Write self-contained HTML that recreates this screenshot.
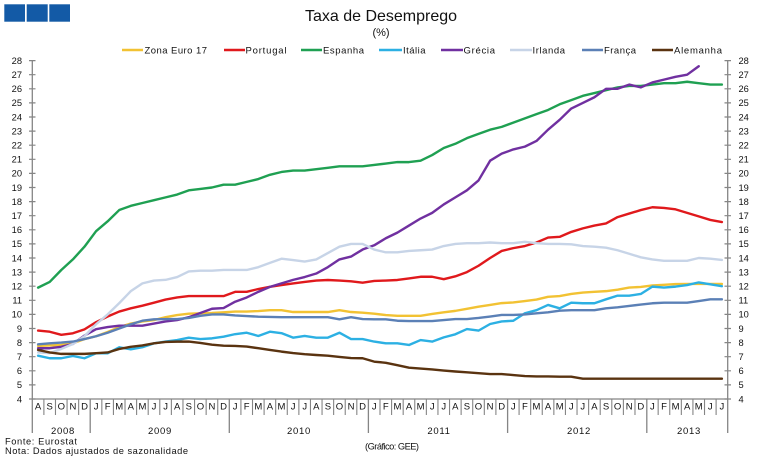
<!DOCTYPE html>
<html><head><meta charset="utf-8"><style>
html,body{margin:0;padding:0;background:#fff;}
svg{display:block;font-family:"Liberation Sans",Arial,sans-serif;}
</style></head><body>
<svg width="762" height="468" viewBox="0 0 762 468" xmlns="http://www.w3.org/2000/svg">
<rect width="762" height="468" fill="#fff"/>
<!-- logo -->
<rect x="4.3" y="4.3" width="20.7" height="17.4" fill="#135aa6"/>
<rect x="26.7" y="4.3" width="21" height="17.4" fill="#135aa6"/>
<rect x="49.3" y="4.3" width="20.7" height="17.4" fill="#135aa6"/>
<!-- title -->
<text x="381" y="21" font-size="16" text-anchor="middle" fill="#111">Taxa de Desemprego</text>
<text x="381" y="36" font-size="11" text-anchor="middle" fill="#111">(%)</text>
<!-- legend -->
<g stroke-width="2.6">
<line x1="122" y1="50" x2="143" y2="50" stroke="#f2c233"/>
<line x1="224" y1="50" x2="245" y2="50" stroke="#e0191c"/>
<line x1="301" y1="50" x2="322" y2="50" stroke="#1fa052"/>
<line x1="379" y1="50" x2="402" y2="50" stroke="#2cb0e3"/>
<line x1="441" y1="50" x2="463" y2="50" stroke="#7030a0"/>
<line x1="510" y1="50" x2="532" y2="50" stroke="#c7d4e7"/>
<line x1="582" y1="50" x2="603" y2="50" stroke="#5b80b6"/>
<line x1="652" y1="50" x2="673" y2="50" stroke="#5a3310"/>
</g>
<g font-size="9.5" fill="#111">
<text x="144.5" y="53.3" textLength="62.5" lengthAdjust="spacing">Zona Euro 17</text>
<text x="245.5" y="53.3" textLength="41" lengthAdjust="spacing">Portugal</text>
<text x="323" y="53.3" textLength="41" lengthAdjust="spacing">Espanha</text>
<text x="403" y="53.3" textLength="22.5" lengthAdjust="spacing">Itália</text>
<text x="463.5" y="53.3" textLength="31.5" lengthAdjust="spacing">Grécia</text>
<text x="532.5" y="53.3" textLength="32.5" lengthAdjust="spacing">Irlanda</text>
<text x="604" y="53.3" textLength="32" lengthAdjust="spacing">França</text>
<text x="674" y="53.3" textLength="48" lengthAdjust="spacing">Alemanha</text>
</g>
<!-- axes -->
<g stroke="#858585" stroke-width="1.3" fill="none">
<line x1="32.3" y1="60.6" x2="32.3" y2="433"/>
<line x1="727.7" y1="60.6" x2="727.7" y2="433"/>
<line x1="32.3" y1="399" x2="727.7" y2="399"/>
<line x1="90.2" y1="399" x2="90.2" y2="433"/>
<line x1="229.3" y1="399" x2="229.3" y2="433"/>
<line x1="368.4" y1="399" x2="368.4" y2="433"/>
<line x1="507.6" y1="399" x2="507.6" y2="433"/>
<line x1="646.8" y1="399" x2="646.8" y2="433"/>
</g>
<g transform="matrix(1 0 0 -14.1 0 455.4)">
<path fill="none" stroke="#858585" stroke-width="1.2" vector-effect="non-scaling-stroke" d="M29,4H35.5M29,5H35.5M29,6H35.5M29,7H35.5M29,8H35.5M29,9H35.5M29,10H35.5M29,11H35.5M29,12H35.5M29,13H35.5M29,14H35.5M29,15H35.5M29,16H35.5M29,17H35.5M29,18H35.5M29,19H35.5M29,20H35.5M29,21H35.5M29,22H35.5M29,23H35.5M29,24H35.5M29,25H35.5M29,26H35.5M29,27H35.5M29,28H35.5
M724.5,4H731M724.5,5H731M724.5,6H731M724.5,7H731M724.5,8H731M724.5,9H731M724.5,10H731M724.5,11H731M724.5,12H731M724.5,13H731M724.5,14H731M724.5,15H731M724.5,16H731M724.5,17H731M724.5,18H731M724.5,19H731M724.5,20H731M724.5,21H731M724.5,22H731M724.5,23H731M724.5,24H731M724.5,25H731M724.5,26H731M724.5,27H731M724.5,28H731"/>
</g>
<g transform="matrix(11.59 0 0 1 32.3 0)">
<path fill="none" stroke="#858585" stroke-width="1.1" vector-effect="non-scaling-stroke" d="M1,399V415M2,399V415M3,399V415M4,399V415M6,399V415M7,399V415M8,399V415M9,399V415M10,399V415M11,399V415M12,399V415M13,399V415M14,399V415M15,399V415M16,399V415M18,399V415M19,399V415M20,399V415M21,399V415M22,399V415M23,399V415M24,399V415M25,399V415M26,399V415M27,399V415M28,399V415M30,399V415M31,399V415M32,399V415M33,399V415M34,399V415M35,399V415M36,399V415M37,399V415M38,399V415M39,399V415M40,399V415M42,399V415M43,399V415M44,399V415M45,399V415M46,399V415M47,399V415M48,399V415M49,399V415M50,399V415M51,399V415M52,399V415M54,399V415M55,399V415M56,399V415M57,399V415M58,399V415M59,399V415"/>
</g>
<!-- y labels -->
<g font-size="9.3" fill="#111" text-anchor="end">
<text x="22" y="63.9">28</text><text x="22" y="78">27</text><text x="22" y="92.1">26</text><text x="22" y="106.2">25</text><text x="22" y="120.3">24</text><text x="22" y="134.4">23</text><text x="22" y="148.5">22</text><text x="22" y="162.6">21</text><text x="22" y="176.7">20</text><text x="22" y="190.8">19</text><text x="22" y="204.9">18</text><text x="22" y="219">17</text><text x="22" y="233.1">16</text><text x="22" y="247.2">15</text><text x="22" y="261.3">14</text><text x="22" y="275.4">13</text><text x="22" y="289.5">12</text><text x="22" y="303.6">11</text><text x="22" y="317.7">10</text><text x="22" y="331.8">9</text><text x="22" y="345.9">8</text><text x="22" y="360">7</text><text x="22" y="374.1">6</text><text x="22" y="388.2">5</text><text x="22" y="402.3">4</text>
</g>
<g font-size="9.3" fill="#111" text-anchor="start">
<text x="738.5" y="63.9">28</text><text x="738.5" y="78">27</text><text x="738.5" y="92.1">26</text><text x="738.5" y="106.2">25</text><text x="738.5" y="120.3">24</text><text x="738.5" y="134.4">23</text><text x="738.5" y="148.5">22</text><text x="738.5" y="162.6">21</text><text x="738.5" y="176.7">20</text><text x="738.5" y="190.8">19</text><text x="738.5" y="204.9">18</text><text x="738.5" y="219">17</text><text x="738.5" y="233.1">16</text><text x="738.5" y="247.2">15</text><text x="738.5" y="261.3">14</text><text x="738.5" y="275.4">13</text><text x="738.5" y="289.5">12</text><text x="738.5" y="303.6">11</text><text x="738.5" y="317.7">10</text><text x="738.5" y="331.8">9</text><text x="738.5" y="345.9">8</text><text x="738.5" y="360">7</text><text x="738.5" y="374.1">6</text><text x="738.5" y="388.2">5</text><text x="738.5" y="402.3">4</text>
</g>
<!-- month labels -->
<g font-size="9.5" fill="#111" text-anchor="middle">
<text x="38.1" y="409.3">A</text><text x="49.7" y="409.3">S</text><text x="61.3" y="409.3">O</text><text x="72.9" y="409.3">N</text><text x="84.5" y="409.3">D</text>
<text x="96.1" y="409.3">J</text><text x="107.6" y="409.3">F</text><text x="119.2" y="409.3">M</text><text x="130.8" y="409.3">A</text><text x="142.4" y="409.3">M</text><text x="154" y="409.3">J</text><text x="165.6" y="409.3">J</text><text x="177.2" y="409.3">A</text><text x="188.8" y="409.3">S</text><text x="200.4" y="409.3">O</text><text x="211.9" y="409.3">N</text><text x="223.5" y="409.3">D</text>
<text x="235.1" y="409.3">J</text><text x="246.7" y="409.3">F</text><text x="258.3" y="409.3">M</text><text x="269.9" y="409.3">A</text><text x="281.5" y="409.3">M</text><text x="293.1" y="409.3">J</text><text x="304.7" y="409.3">J</text><text x="316.3" y="409.3">A</text><text x="327.9" y="409.3">S</text><text x="339.4" y="409.3">O</text><text x="351" y="409.3">N</text><text x="362.6" y="409.3">D</text>
<text x="374.2" y="409.3">J</text><text x="385.8" y="409.3">F</text><text x="397.4" y="409.3">M</text><text x="409" y="409.3">A</text><text x="420.6" y="409.3">M</text><text x="432.2" y="409.3">J</text><text x="443.8" y="409.3">J</text><text x="455.3" y="409.3">A</text><text x="466.9" y="409.3">S</text><text x="478.5" y="409.3">O</text><text x="490.1" y="409.3">N</text><text x="501.7" y="409.3">D</text>
<text x="513.3" y="409.3">J</text><text x="524.9" y="409.3">F</text><text x="536.5" y="409.3">M</text><text x="548.1" y="409.3">A</text><text x="559.7" y="409.3">M</text><text x="571.2" y="409.3">J</text><text x="582.8" y="409.3">J</text><text x="594.4" y="409.3">A</text><text x="606" y="409.3">S</text><text x="617.6" y="409.3">O</text><text x="629.2" y="409.3">N</text><text x="640.8" y="409.3">D</text>
<text x="652.4" y="409.3">J</text><text x="664" y="409.3">F</text><text x="675.6" y="409.3">M</text><text x="687.2" y="409.3">A</text><text x="698.7" y="409.3">M</text><text x="710.3" y="409.3">J</text><text x="721.9" y="409.3">J</text>
</g>
<!-- year labels -->
<g font-size="9.5" fill="#111" text-anchor="middle" letter-spacing="0.7">
<text x="63" y="434">2008</text><text x="160" y="434">2009</text><text x="299" y="434">2010</text><text x="439" y="434">2011</text><text x="579" y="434">2012</text><text x="689" y="434">2013</text>
</g>
<!-- footer -->
<g font-size="9.3" fill="#111">
<text x="5" y="444.7" textLength="72" lengthAdjust="spacing">Fonte: Eurostat</text>
<text x="5" y="454" textLength="183" lengthAdjust="spacing">Nota: Dados ajustados de sazonalidade</text>
<text x="365" y="449.5" textLength="54" lengthAdjust="spacing">(Gráfico: GEE)</text>
</g>
<!-- data series -->
<g transform="matrix(11.59 0 0 -14.1 38.1 455.4)" fill="none" stroke-width="2.4" stroke-linejoin="round" stroke-linecap="round">
<polyline vector-effect="non-scaling-stroke" stroke="#f2c233" points="0,7.76 1,7.8 2,7.83 3,7.95 4,8.25 5,8.45 6,8.75 7,9.1 8,9.35 9,9.5 10,9.6 11,9.8 12,9.95 13,10.05 14,10.08 15,10.1 16,10.15 17,10.2 18,10.2 19,10.24 20,10.3 21,10.3 22,10.17 23,10.17 24,10.17 25,10.17 26,10.3 27,10.17 28,10.12 29,10.05 30,9.95 31,9.9 32,9.9 33,9.9 34,10.03 35,10.15 36,10.25 37,10.4 38,10.55 39,10.67 40,10.8 41,10.85 42,10.95 43,11.05 44,11.25 45,11.3 46,11.45 47,11.55 48,11.6 49,11.65 50,11.75 51,11.9 52,11.95 53,12.05 54,12.1 55,12.15 56,12.16 57,12.16 58,12.16 59,12.16"/>
<polyline vector-effect="non-scaling-stroke" stroke="#e0191c" points="0,8.85 1,8.77 2,8.55 3,8.66 4,8.94 5,9.45 6,9.85 7,10.2 8,10.43 9,10.62 10,10.83 11,11.05 12,11.2 13,11.3 14,11.3 15,11.3 16,11.3 17,11.6 18,11.6 19,11.8 20,11.96 21,12.08 22,12.2 23,12.3 24,12.4 25,12.44 26,12.4 27,12.35 28,12.25 29,12.37 30,12.4 31,12.44 32,12.55 33,12.67 34,12.67 35,12.5 36,12.7 37,13.0 38,13.45 39,14.0 40,14.5 41,14.7 42,14.85 43,15.1 44,15.45 45,15.5 46,15.85 47,16.1 48,16.3 49,16.45 50,16.9 51,17.15 52,17.4 53,17.6 54,17.55 55,17.45 56,17.2 57,16.95 58,16.7 59,16.55"/>
<polyline vector-effect="non-scaling-stroke" stroke="#1fa052" points="0,11.9 1,12.3 2,13.15 3,13.9 4,14.8 5,15.9 6,16.6 7,17.4 8,17.7 9,17.9 10,18.1 11,18.3 12,18.5 13,18.8 14,18.9 15,19.0 16,19.2 17,19.2 18,19.4 19,19.6 20,19.9 21,20.1 22,20.2 23,20.2 24,20.3 25,20.4 26,20.5 27,20.5 28,20.5 29,20.6 30,20.7 31,20.8 32,20.8 33,20.9 34,21.3 35,21.8 36,22.1 37,22.5 38,22.8 39,23.1 40,23.3 41,23.6 42,23.9 43,24.2 44,24.5 45,24.9 46,25.2 47,25.5 48,25.7 49,25.9 50,26.1 51,26.2 52,26.2 53,26.3 54,26.4 55,26.4 56,26.5 57,26.4 58,26.3 59,26.3"/>
<polyline vector-effect="non-scaling-stroke" stroke="#2cb0e3" points="0,7.07 1,6.89 2,6.89 3,7.05 4,6.89 5,7.24 6,7.24 7,7.67 8,7.52 9,7.67 10,7.95 11,8.07 12,8.18 13,8.35 14,8.25 15,8.3 16,8.42 17,8.6 18,8.7 19,8.47 20,8.77 21,8.67 22,8.35 23,8.47 24,8.35 25,8.35 26,8.7 27,8.25 28,8.25 29,8.07 30,7.95 31,7.95 32,7.83 33,8.18 34,8.07 35,8.37 36,8.59 37,8.96 38,8.85 39,9.32 40,9.5 41,9.55 42,10.08 43,10.3 44,10.67 45,10.43 46,10.83 47,10.79 48,10.79 49,11.07 50,11.33 51,11.33 52,11.45 53,11.97 54,11.9 55,11.97 56,12.08 57,12.27 58,12.13 59,12.0"/>
<polyline vector-effect="non-scaling-stroke" stroke="#7030a0" points="0,7.6 1,7.6 2,7.7 3,7.9 4,8.5 5,8.95 6,9.1 7,9.2 8,9.2 9,9.2 10,9.35 11,9.5 12,9.6 13,9.8 14,10.1 15,10.4 16,10.45 17,10.9 18,11.2 19,11.6 20,11.95 21,12.2 22,12.45 23,12.65 24,12.9 25,13.35 26,13.9 27,14.1 28,14.6 29,14.9 30,15.4 31,15.8 32,16.3 33,16.8 34,17.2 35,17.8 36,18.3 37,18.8 38,19.5 39,20.9 40,21.4 41,21.7 42,21.9 43,22.3 44,23.1 45,23.8 46,24.6 47,25.0 48,25.4 49,26.0 50,26.0 51,26.3 52,26.1 53,26.45 54,26.65 55,26.85 56,27.0 57,27.6"/>
<polyline vector-effect="non-scaling-stroke" stroke="#c7d4e7" points="0,7.3 1,7.25 2,7.55 3,7.9 4,8.45 5,9.3 6,10.0 7,10.8 8,11.65 9,12.2 10,12.4 11,12.45 12,12.65 13,13.05 14,13.1 15,13.1 16,13.15 17,13.15 18,13.15 19,13.35 20,13.65 21,13.95 22,13.85 23,13.75 24,13.9 25,14.35 26,14.8 27,15.0 28,15.0 29,14.6 30,14.4 31,14.4 32,14.5 33,14.55 34,14.6 35,14.85 36,15.0 37,15.05 38,15.05 39,15.1 40,15.05 41,15.05 42,15.15 43,15.05 44,15.0 45,15.0 46,14.97 47,14.85 48,14.8 49,14.73 50,14.55 51,14.3 52,14.05 53,13.9 54,13.8 55,13.8 56,13.8 57,14.0 58,13.95 59,13.86"/>
<polyline vector-effect="non-scaling-stroke" stroke="#5b80b6" points="0,7.88 1,7.95 2,8.0 3,8.07 4,8.25 5,8.45 6,8.7 7,9.0 8,9.3 9,9.55 10,9.65 11,9.67 12,9.67 13,9.75 14,9.9 15,10.0 16,10.0 17,9.93 18,9.88 19,9.84 20,9.82 21,9.8 22,9.8 23,9.8 24,9.8 25,9.8 26,9.65 27,9.8 28,9.67 29,9.65 30,9.65 31,9.55 32,9.53 33,9.53 34,9.53 35,9.6 36,9.67 37,9.67 38,9.75 39,9.85 40,9.96 41,9.96 42,10.0 43,10.08 44,10.15 45,10.26 46,10.3 47,10.3 48,10.3 49,10.43 50,10.5 51,10.6 52,10.7 53,10.79 54,10.83 55,10.83 56,10.83 57,10.95 58,11.07 59,11.07"/>
<polyline vector-effect="non-scaling-stroke" stroke="#5a3310" points="0,7.48 1,7.3 2,7.2 3,7.2 4,7.2 5,7.25 6,7.3 7,7.55 8,7.7 9,7.8 10,7.95 11,8.05 12,8.07 13,8.07 14,7.98 15,7.85 16,7.78 17,7.76 18,7.72 19,7.6 20,7.48 21,7.36 22,7.26 23,7.18 24,7.12 25,7.07 26,6.98 27,6.9 28,6.89 29,6.65 30,6.57 31,6.4 32,6.22 33,6.16 34,6.1 35,6.02 36,5.95 37,5.89 38,5.83 39,5.77 40,5.77 41,5.7 42,5.63 43,5.6 44,5.6 45,5.58 46,5.58 47,5.44 48,5.44 49,5.44 50,5.44 51,5.44 52,5.44 53,5.44 54,5.44 55,5.44 56,5.44 57,5.44 58,5.44 59,5.44"/>
</g>
</svg>
</body></html>
